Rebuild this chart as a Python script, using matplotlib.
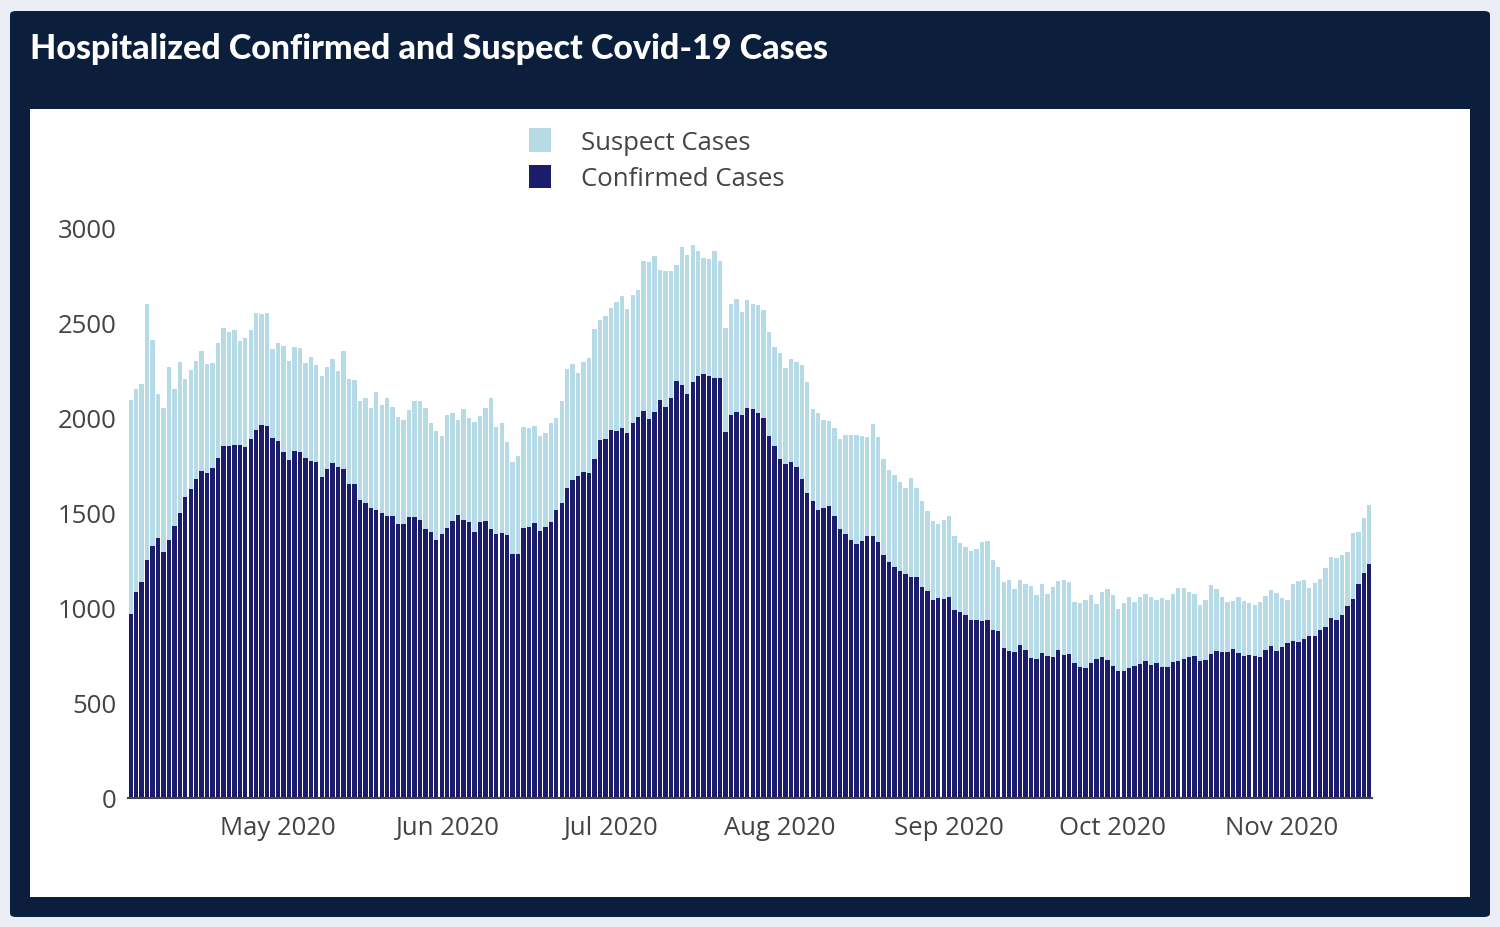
import numpy as np
import pandas as pd
import matplotlib
matplotlib.use('Agg')
import matplotlib.pyplot as plt
import matplotlib.dates as mdates
from matplotlib.patches import FancyBboxPatch, Rectangle, Patch

start_date = '2020-04-04'

confirmed = [968, 1081, 1135, 1250, 1325, 1365, 1294, 1357, 1428, 1497,
             1584, 1621, 1676, 1719, 1708, 1733, 1784, 1852, 1852, 1857,
             1857, 1843, 1884, 1935, 1962, 1957, 1891, 1878, 1816, 1776,
             1825, 1820, 1784, 1770, 1765, 1687, 1729, 1760, 1740, 1728,
             1648, 1648, 1568, 1548, 1525, 1511, 1500, 1484, 1484, 1438,
             1438, 1474, 1474, 1459, 1412, 1398, 1357, 1387, 1417, 1455,
             1486, 1459, 1448, 1397, 1448, 1455, 1412, 1387, 1393, 1382,
             1282, 1282, 1417, 1422, 1443, 1402, 1422, 1449, 1512, 1552,
             1630, 1671, 1692, 1712, 1706, 1780, 1883, 1887, 1935, 1929,
             1945, 1920, 1968, 2003, 2034, 1991, 2028, 2091, 2054, 2100,
             2190, 2168, 2122, 2184, 2215, 2230, 2215, 2205, 2209, 1923,
             2013, 2028, 2013, 2050, 2042, 2021, 1997, 1900, 1852, 1779,
             1754, 1765, 1738, 1676, 1603, 1563, 1513, 1522, 1536, 1479,
             1412, 1387, 1357, 1335, 1349, 1376, 1376, 1346, 1277, 1241,
             1214, 1195, 1177, 1163, 1163, 1111, 1085, 1039, 1049, 1044,
             1055, 989, 977, 962, 937, 937, 931, 937, 884, 875,
             786, 770, 765, 802, 776, 734, 728, 760, 744, 739,
             776, 749, 755, 707, 686, 681, 707, 728, 739, 723,
             692, 665, 665, 681, 692, 702, 718, 697, 707, 688,
             688, 714, 720, 730, 741, 746, 720, 725, 756, 770,
             765, 765, 781, 760, 746, 751, 746, 739, 776, 797,
             770, 791, 812, 823, 818, 833, 849, 849, 884, 900,
             947, 937, 963, 1008, 1045, 1122, 1183, 1231]

total_cases = [2090, 2148, 2173, 2598, 2406, 2122, 2047, 2267, 2148, 2292,
               2200, 2251, 2298, 2349, 2282, 2285, 2392, 2468, 2447, 2457,
               2401, 2415, 2457, 2546, 2541, 2546, 2360, 2392, 2374, 2298,
               2370, 2363, 2287, 2317, 2274, 2219, 2267, 2308, 2246, 2349,
               2204, 2198, 2085, 2104, 2047, 2131, 2063, 2101, 2053, 2003,
               1987, 2037, 2085, 2085, 2047, 1969, 1928, 1903, 2012, 2022,
               1987, 2042, 1998, 1974, 2006, 2047, 2104, 1949, 1971, 1868,
               1765, 1795, 1949, 1944, 1954, 1900, 1916, 1968, 1997, 2085,
               2256, 2281, 2234, 2291, 2312, 2464, 2510, 2535, 2576, 2607,
               2638, 2570, 2644, 2669, 2823, 2815, 2846, 2773, 2767, 2767,
               2802, 2897, 2852, 2903, 2872, 2835, 2831, 2875, 2823, 2467,
               2598, 2623, 2551, 2619, 2598, 2592, 2566, 2450, 2369, 2340,
               2260, 2306, 2292, 2276, 2188, 2042, 2022, 1987, 1982, 1944,
               1884, 1909, 1909, 1909, 1903, 1895, 1966, 1895, 1783, 1722,
               1696, 1658, 1630, 1680, 1630, 1561, 1509, 1454, 1438, 1458,
               1484, 1376, 1339, 1319, 1299, 1310, 1345, 1350, 1252, 1215,
               1133, 1143, 1096, 1143, 1122, 1112, 1064, 1122, 1070, 1106,
               1138, 1143, 1133, 1028, 1022, 1038, 1064, 1017, 1080, 1096,
               1064, 991, 1022, 1054, 1028, 1054, 1070, 1054, 1038, 1050,
               1040, 1070, 1101, 1101, 1080, 1070, 1014, 1040, 1117, 1096,
               1054, 1029, 1035, 1056, 1033, 1024, 1014, 1029, 1061, 1091,
               1075, 1050, 1040, 1122, 1138, 1143, 1101, 1127, 1148, 1206,
               1268, 1263, 1278, 1294, 1390, 1395, 1469, 1537]

suspect = list(np.array(total_cases) - np.array(confirmed))

y_ticks = [0, 500, 1000, 1500, 2000, 2500, 3000]
title = 'Hospitalized Confirmed and Suspect Covid-19 Cases'
series_labels = ['Suspect Cases', 'Confirmed Cases']

dates = pd.date_range(start_date, periods=len(confirmed), freq='D')

W, H = 1500, 928
fig = plt.figure(figsize=(W / 100, H / 100), dpi=100)
fig.patch.set_facecolor('#ebeff5')

navy = '#0b1f3d'
c_conf = '#1b1c6c'
c_susp = '#b6dae6'
txt = '#444444'

outer = FancyBboxPatch((10 / W, 1 - 918 / H), 1480 / W, 906 / H,
                       boxstyle='round,pad=0,rounding_size=0.004',
                       transform=fig.transFigure, facecolor=navy,
                       edgecolor='none', zorder=0)
fig.add_artist(outer)
inner = Rectangle((30 / W, 1 - 898 / H), 1440 / W, 788 / H,
                  transform=fig.transFigure, facecolor='white',
                  edgecolor='none', zorder=0.5)
fig.add_artist(inner)

fig.text(30 / W, 1 - 49 / H, title, color='white', fontsize=24.5,
         fontweight='black', family='Lato', va='center', ha='left')

ymax = 3050
ax_bottom_px = 799
ax_h_px = ymax * (571.0 / 3000)
ax = fig.add_axes([128 / W, (H - ax_bottom_px) / H, 1244 / W, ax_h_px / H])
ax.set_facecolor('white')
ax.set_zorder(1)

ax.bar(dates, confirmed, width=0.8, color=c_conf, linewidth=0,
       label=series_labels[1])
ax.bar(dates, suspect, bottom=confirmed, width=0.8, color=c_susp,
       linewidth=0, label=series_labels[0])

ax.set_xlim(dates[0] - pd.Timedelta(hours=12), dates[-1] + pd.Timedelta(hours=12))
ax.set_ylim(0, ymax)
ax.set_yticks(y_ticks)
ax.set_yticklabels([str(v) for v in y_ticks])
ax.xaxis.set_major_locator(mdates.MonthLocator(bymonth=range(5, 12)))
ax.xaxis.set_major_formatter(mdates.DateFormatter('%b %Y'))

for s in ['top', 'right', 'left']:
    ax.spines[s].set_visible(False)
ax.spines['bottom'].set_color('#444444')
ax.spines['bottom'].set_linewidth(1.5)
ax.tick_params(axis='both', length=0, labelcolor=txt)
ax.tick_params(axis='y', pad=8, labelsize=18.5)
ax.tick_params(axis='x', pad=12, labelsize=18.5)
for lab in ax.get_xticklabels() + ax.get_yticklabels():
    lab.set_family('Open Sans')

handles = [Patch(facecolor=c_susp, edgecolor='none'),
           Patch(facecolor=c_conf, edgecolor='none')]
leg = fig.legend(handles, series_labels, loc='upper left',
                 bbox_to_anchor=(506 / W, 1 - 106 / H), frameon=False,
                 prop={'family': 'Open Sans', 'size': 18.5},
                 handlelength=0.85, handleheight=1.05, handletextpad=1.15,
                 labelspacing=0.38)
for t in leg.get_texts():
    t.set_color(txt)

fig.savefig('out.png', dpi=100, facecolor=fig.get_facecolor())
